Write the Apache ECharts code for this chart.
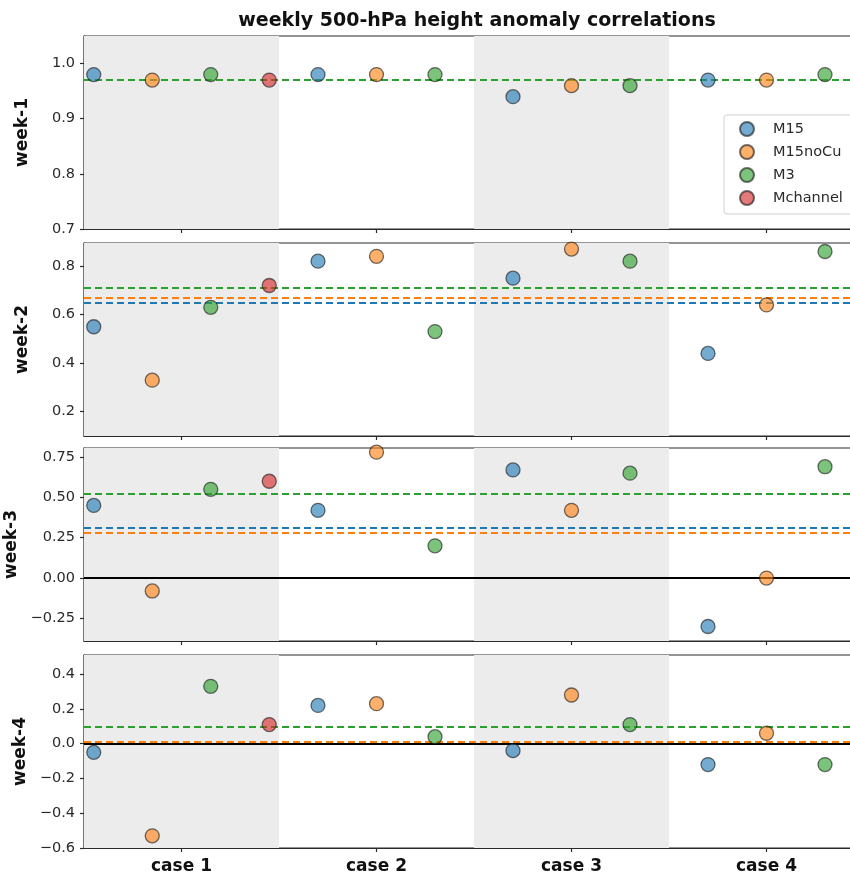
<!DOCTYPE html>
<html>
<head>
<meta charset="utf-8">
<script src="https://cdn.jsdelivr.net/npm/echarts@6/dist/echarts.min.js"></script>
<style>
html,body{margin:0;padding:0;background:#fff;overflow:hidden;}
#chart{width:850px;height:877px;}
</style>
</head>
<body>
<div id="chart"></div>
<script>
// ---------- data ----------
const titleText = 'weekly 500-hPa height anomaly correlations';
const cases = ['case 1', 'case 2', 'case 3', 'case 4'];
const caseX = [1, 2, 3, 4];
const models = ['M15', 'M15noCu', 'M3', 'Mchannel'];
const weekNames = ['week-1', 'week-2', 'week-3', 'week-4'];

// values per model, per case (null = model not run for that case)
const week1_M15      = [0.98, 0.98, 0.94, 0.97];
const week1_M15noCu  = [0.97, 0.98, 0.96, 0.97];
const week1_M3       = [0.98, 0.98, 0.96, 0.98];
const week1_Mchannel = [0.97, null, null, null];

const week2_M15      = [0.55, 0.82, 0.75, 0.44];
const week2_M15noCu  = [0.33, 0.84, 0.87, 0.64];
const week2_M3       = [0.63, 0.53, 0.82, 0.86];
const week2_Mchannel = [0.72, null, null, null];

const week3_M15      = [0.45, 0.42, 0.67, -0.30];
const week3_M15noCu  = [-0.08, 0.78, 0.42, 0.00];
const week3_M3       = [0.55, 0.20, 0.65, 0.69];
const week3_Mchannel = [0.60, null, null, null];

const week4_M15      = [-0.05, 0.22, -0.04, -0.12];
const week4_M15noCu  = [-0.53, 0.23, 0.28, 0.06];
const week4_M3       = [0.33, 0.04, 0.11, -0.12];
const week4_Mchannel = [0.11, null, null, null];

// dashed mean lines (M15, M15noCu, M3)
const week1_means = [0.9675, 0.970, 0.975];
const week2_means = [0.648, 0.671, 0.710];
const week3_means = [0.3125, 0.285, 0.5225];
const week4_means = [0.004, 0.011, 0.100];

// y tick values and labels
const week1_ticks = [0.7, 0.8, 0.9, 1.0];
const week1_tickLabels = ['0.7', '0.8', '0.9', '1.0'];
const week2_ticks = [0.2, 0.4, 0.6, 0.8];
const week2_tickLabels = ['0.2', '0.4', '0.6', '0.8'];
const week3_ticks = [-0.25, 0, 0.25, 0.5, 0.75];
const week3_tickLabels = ['\u22120.25', '0.00', '0.25', '0.50', '0.75'];
const week4_ticks = [-0.6, -0.4, -0.2, 0, 0.2, 0.4];
const week4_tickLabels = ['\u22120.6', '\u22120.4', '\u22120.2', '0.0', '0.2', '0.4'];

// shaded cases (numbers of cases)
const shadedCases = [1, 3];

// ---------- build ----------
const weeks = [
  {vals: [week1_M15, week1_M15noCu, week1_M3, week1_Mchannel], means: week1_means, ticks: week1_ticks, labels: week1_tickLabels, range: [0.7, 1.05], zero: false},
  {vals: [week2_M15, week2_M15noCu, week2_M3, week2_Mchannel], means: week2_means, ticks: week2_ticks, labels: week2_tickLabels, range: [0.1, 0.895], zero: false},
  {vals: [week3_M15, week3_M15noCu, week3_M3, week3_Mchannel], means: week3_means, ticks: week3_ticks, labels: week3_tickLabels, range: [-0.39, 0.806], zero: true},
  {vals: [week4_M15, week4_M15noCu, week4_M3, week4_Mchannel], means: week4_means, ticks: week4_ticks, labels: week4_tickLabels, range: [-0.6, 0.51], zero: true}
];

const colors = ['#1f77b4', '#ff7f0e', '#2ca02c', '#d62728'];
const gridTops = [36, 243, 448, 655];
const gridH = 193;
const FONT = 'DejaVu Sans';

const grids = [], xAxes = [], yAxes = [], series = [];

weeks.forEach((w, wi) => {
  grids.push({left: 84, width: 780, top: gridTops[wi], height: gridH,
    outerBoundsMode: 'none', containLabel: false,
    show: true, borderColor: '#2b2b2b', borderWidth: 1.2, backgroundColor: 'transparent'});
  const isLast = wi === weeks.length - 1;
  xAxes.push({
    type: 'value', gridIndex: wi, min: 0.5, max: 4.5,
    splitLine: {show: false},
    axisLine: {show: true, onZero: false, lineStyle: {color: '#2b2b2b', width: 1.2}},
    axisTick: {show: true, customValues: caseX, length: 4, lineStyle: {color: '#2b2b2b', width: 1.2}},
    axisLabel: {show: isLast, customValues: caseX, margin: 10,
      formatter: v => cases[caseX.findIndex(c => Math.abs(c - v) < 1e-9)] || '',
      fontFamily: FONT, fontWeight: 'bold', fontSize: 17, color: '#111'}
  });
  yAxes.push({
    type: 'value', gridIndex: wi, min: w.range[0], max: w.range[1],
    name: weekNames[wi], nameLocation: 'middle', nameGap: 53, nameRotate: 90,
    nameTextStyle: {fontFamily: FONT, fontWeight: 'bold', fontSize: 17, color: '#111'},
    splitLine: {show: false},
    axisLine: {show: true, lineStyle: {color: '#2b2b2b', width: 1.2}},
    axisTick: {show: true, customValues: w.ticks, length: 4, lineStyle: {color: '#2b2b2b', width: 1.2}},
    axisLabel: {customValues: w.ticks, margin: 9,
      formatter: v => w.labels[w.ticks.findIndex(t => Math.abs(t - v) < 1e-9)] ?? '',
      fontFamily: FONT, fontSize: 14.5, color: '#2a2a2a'}
  });

  const markLines = w.means.map((m, mi) => ({
    yAxis: m, lineStyle: {color: colors[mi], type: [7, 4], width: 2}
  }));
  series.push({
    type: 'scatter', xAxisIndex: wi, yAxisIndex: wi, data: [], silent: true, z: 1,
    markArea: {silent: true, itemStyle: {color: '#ececec'},
      data: shadedCases.map(ci => [{xAxis: caseX[ci - 1] - 0.5}, {xAxis: caseX[ci - 1] + 0.5}])},
    markLine: {silent: true, symbol: ['none', 'none'], label: {show: false}, animation: false,
      data: markLines}
  });
  if (w.zero) {
    series.push({
      type: 'scatter', xAxisIndex: wi, yAxisIndex: wi, data: [], silent: true, z: 3,
      markLine: {silent: true, symbol: ['none', 'none'], label: {show: false}, animation: false,
        data: [{yAxis: 0, lineStyle: {color: '#000', type: 'solid', width: 2}}]}
    });
  }

  models.forEach((name, mi) => {
    const data = [];
    w.vals[mi].forEach((v, ci) => {
      if (v === null) return;
      const present = w.vals.map((arr, k) => arr[ci] !== null ? k : -1).filter(k => k >= 0);
      const rank = present.indexOf(mi);
      const off = (rank - (present.length - 1) / 2) * 0.3;
      data.push([caseX[ci] + off, v]);
    });
    series.push({
      name, type: 'scatter', xAxisIndex: wi, yAxisIndex: wi, z: 5,
      symbol: 'circle', symbolSize: 14, data,
      itemStyle: {color: colors[mi], opacity: 0.62, borderColor: '#1a1a1a', borderWidth: 1.3},
      emphasis: {disabled: true}
    });
  });
});

const chart = echarts.init(document.getElementById('chart'), null, {renderer: 'canvas'});
chart.setOption({
  animation: false,
  backgroundColor: '#fff',
  title: {text: titleText, left: 472, top: 7, textAlign: 'center',
    textStyle: {fontFamily: FONT, fontWeight: 'bold', fontSize: 19, color: '#111'}},
  legend: {
    data: models, orient: 'vertical', left: 724, top: 115,
    icon: 'circle', itemWidth: 14, itemHeight: 14, itemGap: 7,
    padding: [6, 60, 8, 15],
    backgroundColor: '#fff', borderColor: '#d0d0d0', borderWidth: 1, borderRadius: 3,
    textStyle: {fontFamily: FONT, fontSize: 14.5, color: '#2a2a2a', padding: [0, 0, 0, 14]},
    selectedMode: false
  },
  grid: grids, xAxis: xAxes, yAxis: yAxes, series
});
</script>
</body>
</html>
